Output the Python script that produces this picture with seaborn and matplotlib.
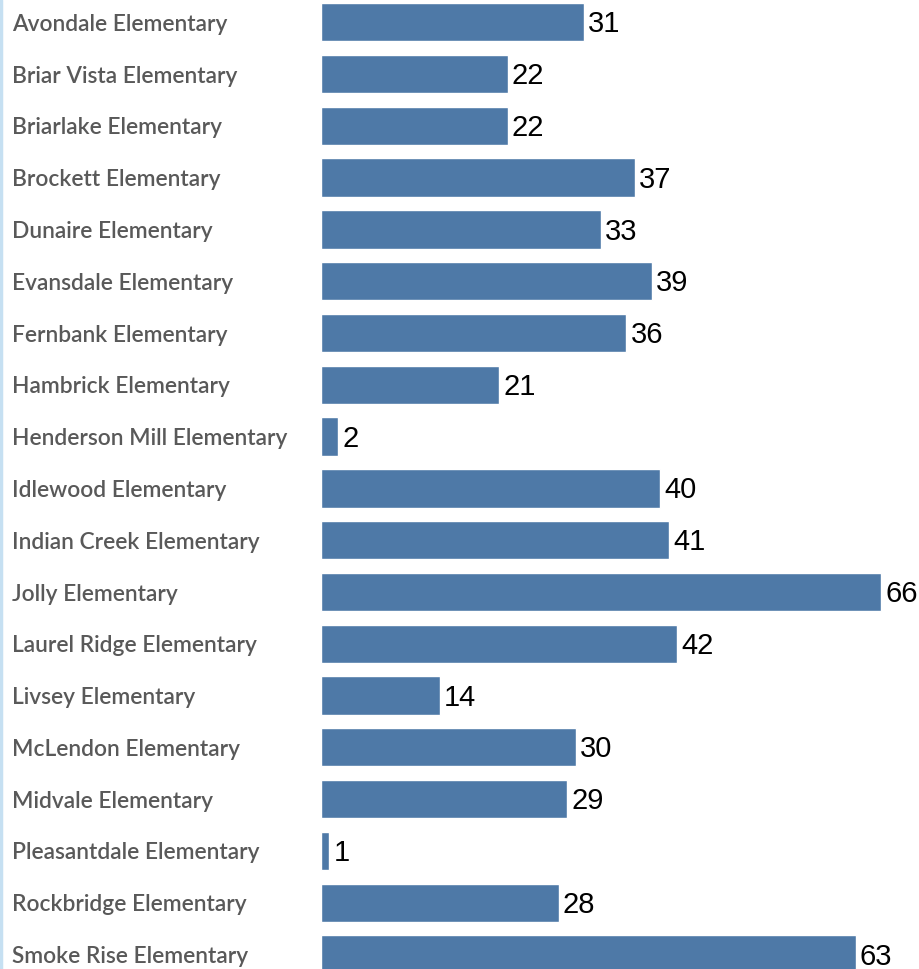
import matplotlib
matplotlib.use('Agg')
import matplotlib.pyplot as plt
import matplotlib.transforms as mtransforms
from matplotlib.lines import Line2D
import seaborn as sns
import pandas as pd

# schools and their counts, top to bottom
schools = ['Avondale Elementary', 'Briar Vista Elementary', 'Briarlake Elementary',
           'Brockett Elementary', 'Dunaire Elementary', 'Evansdale Elementary',
           'Fernbank Elementary', 'Hambrick Elementary', 'Henderson Mill Elementary',
           'Idlewood Elementary', 'Indian Creek Elementary', 'Jolly Elementary',
           'Laurel Ridge Elementary', 'Livsey Elementary', 'McLendon Elementary',
           'Midvale Elementary', 'Pleasantdale Elementary', 'Rockbridge Elementary',
           'Smoke Rise Elementary']
counts = [31, 22, 22, 37, 33, 39, 36, 21, 2, 40, 41, 66, 42, 14, 30, 29, 1, 28, 63]

df = pd.DataFrame({'school': schools, 'count': counts})

sns.set_style('white')
fig = plt.figure(figsize=(9.2, 9.69), dpi=100)
ax = fig.add_axes([321 / 920, 0, 1 - 321 / 920, 1])

sns.barplot(data=df, x='count', y='school', orient='h', color='#4e79a7',
            saturation=1, width=0.74, ax=ax)

ax.set_xlim(0, 70.6)
ax.set_ylim(18.28, -0.43)
ax.set_xlabel('')
ax.set_ylabel('')
ax.set_xticks([])
ax.set_yticks([])
for s in ax.spines.values():
    s.set_visible(False)

# value labels at bar ends, nudged down a little
labels = ax.bar_label(ax.containers[0], padding=4, fontsize=21, color='black',
                      family=['Liberation Sans', 'DejaVu Sans'])
for t in labels:
    t.xyann = (3, -1.5)

# school names on the far left
trans = mtransforms.blended_transform_factory(fig.transFigure, ax.transData)
for i, name in enumerate(schools):
    ax.text(12 / 920, i + 0.04, name, transform=trans, ha='left', va='center',
            fontsize=16.4, fontweight='semibold', color='#595959',
            family=['Lato', 'DejaVu Sans'], clip_on=False)

# thin light blue line on the left edge
fig.add_artist(Line2D([1.5 / 920, 1.5 / 920], [0, 1], transform=fig.transFigure,
                      color='#c6e0f2', linewidth=2.5))

fig.savefig('out.png', dpi=100)
